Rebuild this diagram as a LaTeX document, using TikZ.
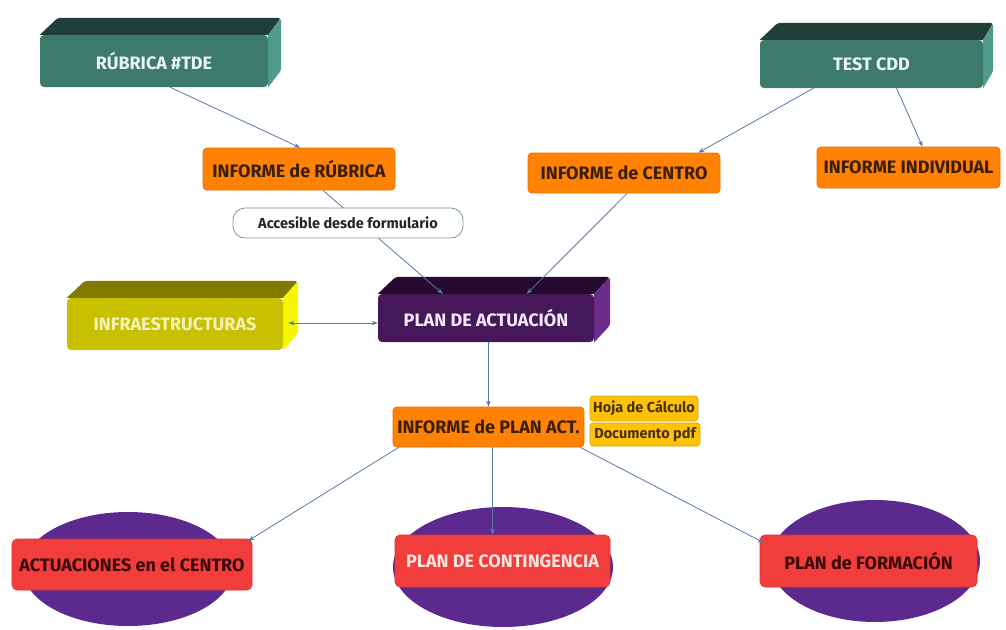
\documentclass[tikz,border=0pt]{standalone}
\usepackage{fontspec}
\setmainfont{Fira Sans}
\usetikzlibrary{arrows.meta,calc,backgrounds,shapes.geometric}
\definecolor{tealfront}{HTML}{3E7A6B}
\definecolor{tealtop}{HTML}{1F3F38}
\definecolor{tealside}{HTML}{4F9C8C}
\definecolor{tealtext}{HTML}{E8F4EE}
\definecolor{orfill}{HTML}{FF8205}
\definecolor{ordraw}{HTML}{E27200}
\definecolor{ortext}{HTML}{3A1E05}
\definecolor{infront}{HTML}{C8C000}
\definecolor{intop}{HTML}{807A00}
\definecolor{inside}{HTML}{F6F600}
\definecolor{intext}{HTML}{F2F2B8}
\definecolor{plfront}{HTML}{45185A}
\definecolor{pltop}{HTML}{260A30}
\definecolor{plside}{HTML}{6B2C8C}
\definecolor{pltext}{HTML}{F2E8F8}
\definecolor{yfill}{HTML}{FFC20A}
\definecolor{ydraw}{HTML}{D9A300}
\definecolor{ytext}{HTML}{4A3000}
\definecolor{ellfill}{HTML}{5C2A8F}
\definecolor{redfill}{HTML}{F23D3D}
\definecolor{reddraw}{HTML}{E03030}
\definecolor{redtext}{HTML}{3A0808}
\definecolor{redlight}{HTML}{FFE6DE}
\definecolor{edgecol}{HTML}{5878A8}
\definecolor{accdraw}{HTML}{7A9A88}
\tikzset{
  lbl/.style={font=\bfseries\fontsize{18}{18}\selectfont},
  small/.style={font=\bfseries\fontsize{14.5}{14.5}\selectfont},
  box3/.style={rectangle, rounded corners=4pt, inner sep=0pt, lbl},
  orbox/.style={rectangle, rounded corners=4pt, fill=orfill, draw=ordraw, line width=0.8pt, text=ortext, inner sep=0pt, lbl},
  ybox/.style={rectangle, rounded corners=3pt, fill=yfill, draw=ydraw, line width=0.6pt, text=ytext, inner sep=0pt, small},
  accbox/.style={rectangle, rounded corners=12pt, fill=white, draw=accdraw, line width=0.8pt, text=black!85, inner sep=0pt, small},
  ellbox/.style={ellipse, fill=ellfill, inner sep=0pt},
  redbox/.style={rectangle, rounded corners=5pt, fill=redfill, draw=reddraw, line width=0.6pt, inner sep=0pt, lbl},
  conn/.style={draw=edgecol, line width=0.8pt, -{Stealth[length=6pt,width=4.5pt]}},
  dconn/.style={draw=edgecol, line width=0.8pt, {Stealth[length=6pt,width=4.5pt]}-{Stealth[length=6pt,width=4.5pt]}},
}
% #1 node, #2 top colour, #3 side colour, #4 horizontal depth
\newcommand{\faces}[4]{%
  \begin{scope}[on background layer]
    \fill[#2] (#1.north west) [rounded corners=3pt] -- ++(18,-17) -- ($(#1.north east)+(#4,-17)$) [sharp corners] -- (#1.north east) -- cycle;
    \fill[#3] (#1.north east) [rounded corners=3pt] -- ++(#4,-17) -- ($(#1.south east)+(#4,-17)$) [sharp corners] -- (#1.south east) -- cycle;
  \end{scope}}
\begin{document}
\begin{tikzpicture}[x=1pt,y=-1pt]
\useasboundingbox (0,0) rectangle (1006,629);
% 3D boxes
\node[box3, fill=tealfront, text=tealtext, minimum width=228, minimum height=52] (rub) at (154,61) {RÚBRICA \#TDE};
\faces{rub}{tealtop}{tealside}{13}
\node[box3, fill=tealfront, text=tealtext, minimum width=223, minimum height=48] (test) at (871.5,64) {TEST CDD};
\faces{test}{tealtop}{tealside}{10}
\node[box3, fill=infront, text=intext, minimum width=216, minimum height=52] (infra) at (175,324) {INFRAESTRUCTURAS};
\faces{infra}{intop}{inside}{15}
\node[box3, fill=plfront, text=pltext, minimum width=216, minimum height=48] (plan) at (486,318) {PLAN DE ACTUACIÓN};
\faces{plan}{pltop}{plside}{16}
% orange reports
\node[orbox, minimum width=192, minimum height=42] (infr) at (299,169) {INFORME de RÚBRICA};
\node[orbox, minimum width=192, minimum height=40] (infc) at (624,173) {INFORME de CENTRO};
\node[orbox, minimum width=183, minimum height=41] (infi) at (908.5,167.5) {INFORME INDIVIDUAL};
\node[orbox, minimum width=191, minimum height=40] (infp) at (488.5,427) {INFORME de PLAN ACT.};
% yellow notes
\node[ybox, minimum width=108, minimum height=25] (hoja) at (644,408.5) {Hoja de Cálculo};
\node[ybox, minimum width=110, minimum height=23] (doc) at (645,434.5) {Documento pdf};
% ellipses
\node[ellbox, minimum width=210, minimum height=114] (e1) at (128,569) {};
\node[redbox, text=redtext, minimum width=240, minimum height=51] (act) at (132,564.5) {ACTUACIONES en el CENTRO};
\node[ellbox, minimum width=220, minimum height=120] (e2) at (503,567) {};
\node[redbox, text=redlight, minimum width=215, minimum height=52] (cont) at (502.5,561) {PLAN DE CONTINGENCIA};
\node[ellbox, minimum width=210, minimum height=122] (e3) at (875,561) {};
\node[redbox, text=redtext, minimum width=217, minimum height=52] (form) at (868.5,561) {PLAN de FORMACIÓN};
% connectors
\draw[conn] ($(rub.south)+(16,0)$) -- ($(infr.north)+(1,0)$);
\draw[conn] ($(infr.south)+(24,0)$) -- ($(plan.north west)+(65,0)$);
\draw[conn] ($(test.south)+(-58,0)$) -- ($(infc.north east)+(-22,0)$);
\draw[conn] ($(test.south)+(25,0)$) -- ($(infi.north)+(14,0)$);
\draw[conn] ($(infc.south)+(3,0)$) -- ($(plan.north west)+(149,0)$);
\draw[dconn] ($(infra.east)+(5,-1)$) -- ($(infra.east -| plan.west)+(0,-1)$);
\draw[conn] (plan.south -| infp.north) -- (infp.north);
\draw[conn] ($(infp.south west)+(6,0)$) -- ($(act.north east)+(-4,2)$);
\draw[conn] ($(infp.south)+(4,0)$) -- ($(infp.south |- cont.north)+(4,0)$);
\draw[conn] ($(infp.south east)+(-4,0)$) -- ($(form.north west)+(4,8)$);
% label on connector
\node[accbox, minimum width=230, minimum height=30] (acc) at (348,223) {Accesible desde formulario};
\end{tikzpicture}
\end{document}
